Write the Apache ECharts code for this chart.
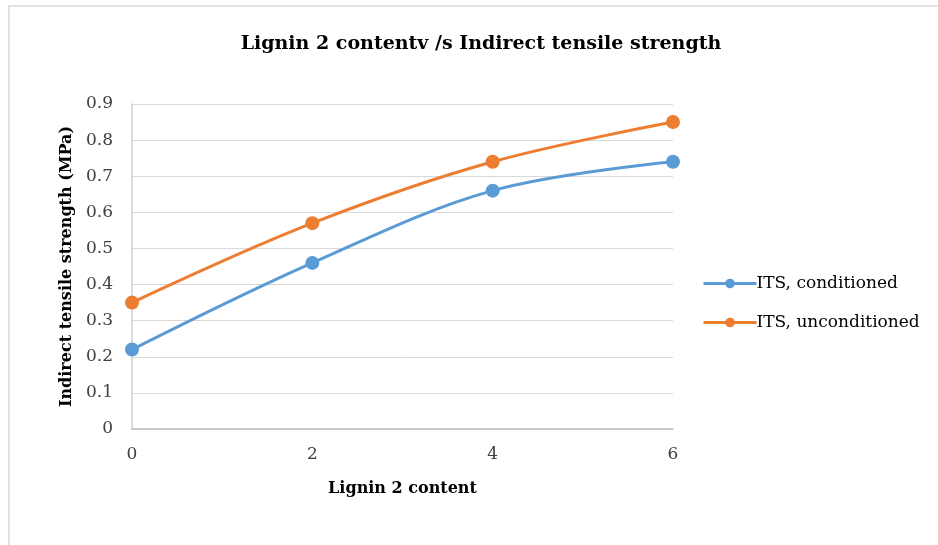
<!DOCTYPE html>
<html>
<head>
<meta charset="utf-8">
<script src="https://cdn.jsdelivr.net/npm/echarts@6/dist/echarts.min.js"></script>
<style>
  html, body { margin: 0; padding: 0; background: #fff; }
  #chart { width: 938px; height: 545px; }
</style>
</head>
<body>
<div id="chart"></div>
<script>
// Lignin 2 content (x) against indirect tensile strength (MPa)
const lignin = [0, 2, 4, 6];
const itsConditioned = [0.22, 0.46, 0.66, 0.74];
const itsUnconditioned = [0.35, 0.57, 0.74, 0.85];
const seriesNames = ['ITS, conditioned', 'ITS, unconditioned'];
const seriesColors = ['#5B9BD5', '#ED7D31'];

const serif = '"DejaVu Serif", "Liberation Serif", serif';

function pairs(xs, ys) {
  return xs.map((x, i) => [x, ys[i]]);
}

const chart = echarts.init(document.getElementById('chart'), null, { renderer: 'canvas' });

chart.setOption({
  backgroundColor: '#ffffff',
  animation: false,
  graphic: [{
    type: 'rect',
    shape: { x: 9, y: 6, width: 1200, height: 1200 },
    style: { fill: 'none', stroke: '#e2e2e2', lineWidth: 2 },
    silent: true
  }],
  title: {
    text: 'Lignin 2 contentv /s Indirect tensile strength',
    left: 476,
    textAlign: 'center',
    top: 30,
    textStyle: { fontFamily: serif, fontWeight: 'bold', fontSize: 19, color: '#000' }
  },
  legend: {
    orient: 'vertical',
    left: 697,
    top: 270,
    itemWidth: 53,
    itemHeight: 12,
    itemGap: 22,
    lineStyle: { width: 3 },
    textStyle: { fontFamily: serif, fontSize: 17, color: '#000', padding: [0, 0, 0, -5] },
    data: seriesNames
  },
  grid: { left: 132, right: 265, top: 104, bottom: 116, containLabel: false },
  xAxis: {
    type: 'value',
    min: 0, max: 6, interval: 2,
    name: 'Lignin 2 content',
    nameLocation: 'middle',
    nameGap: 52,
    nameTextStyle: { fontFamily: serif, fontWeight: 'bold', fontSize: 16, color: '#000' },
    axisLine: { show: true, lineStyle: { color: '#bfbfbf', width: 1.5 } },
    axisTick: { show: false },
    splitLine: { show: false },
    axisLabel: { fontFamily: serif, fontSize: 17, color: '#404040', margin: 17 }
  },
  yAxis: {
    type: 'value',
    min: 0, max: 0.9, interval: 0.1,
    name: 'Indirect tensile strength (MPa)',
    nameLocation: 'middle',
    nameGap: 55,
    nameTextStyle: { fontFamily: serif, fontWeight: 'bold', fontSize: 16, color: '#000' },
    axisLine: { show: true, lineStyle: { color: '#d0d0d0', width: 1.5 } },
    axisTick: { show: false },
    splitLine: { show: true, lineStyle: { color: '#d9d9d9', width: 1 } },
    axisLabel: {
      fontFamily: serif, fontSize: 17, color: '#404040', margin: 19,
      formatter: v => (v === 0 ? '0' : v.toFixed(1))
    }
  },
  series: [
    {
      name: seriesNames[0],
      type: 'line',
      data: pairs(lignin, itsConditioned),
      smooth: 0.35,
      symbol: 'circle',
      symbolSize: 14,
      color: seriesColors[0],
      lineStyle: { width: 3, color: seriesColors[0] },
      itemStyle: { color: seriesColors[0] }
    },
    {
      name: seriesNames[1],
      type: 'line',
      data: pairs(lignin, itsUnconditioned),
      smooth: 0.35,
      symbol: 'circle',
      symbolSize: 14,
      color: seriesColors[1],
      lineStyle: { width: 3, color: seriesColors[1] },
      itemStyle: { color: seriesColors[1] }
    }
  ]
});
</script>
</body>
</html>
